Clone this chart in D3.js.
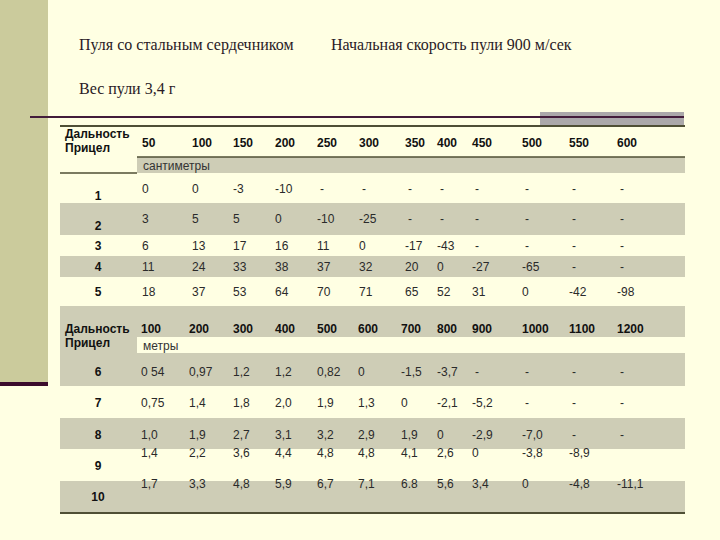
<!DOCTYPE html>
<html>
<head>
<meta charset="utf-8">
<script src="https://cdn.jsdelivr.net/npm/d3@7"></script>
<style>
  body { margin: 0; background: #ffffe3; }
  svg { display: block; }
</style>
</head>
<body>
<div id="chart"></div>
<script>
// data: sight tables for the steel-core bullet
const title1 = "Пуля со стальным сердечником";
const title2 = "Начальная скорость пули 900 м/сек";
const title3 = "Вес пули 3,4 г";
const headLabel = ["Дальность", "Прицел"];

const cmRanges = [50, 100, 150, 200, 250, 300, 350, 400, 450, 500, 550, 600];
const cmUnit = "сантиметры";
const cmSights = [1, 2, 3, 4, 5];
const cmValues = [
  ["0", "0", "-3", "-10", "-", "-", "-", "-", "-", "-", "-", "-"],
  ["3", "5", "5", "0", "-10", "-25", "-", "-", "-", "-", "-", "-"],
  ["6", "13", "17", "16", "11", "0", "-17", "-43", "-", "-", "-", "-"],
  ["11", "24", "33", "38", "37", "32", "20", "0", "-27", "-65", "-", "-"],
  ["18", "37", "53", "64", "70", "71", "65", "52", "31", "0", "-42", "-98"],
];

const mRanges = [100, 200, 300, 400, 500, 600, 700, 800, 900, 1000, 1100, 1200];
const mUnit = "метры";
const mSights = [6, 7, 8, 9, 10];
const mValues = [
  ["0 54", "0,97", "1,2", "1,2", "0,82", "0", "-1,5", "-3,7", "-", "-", "-", "-"],
  ["0,75", "1,4", "1,8", "2,0", "1,9", "1,3", "0", "-2,1", "-5,2", "-", "-", "-"],
  ["1,0", "1,9", "2,7", "3,1", "3,2", "2,9", "1,9", "0", "-2,9", "-7,0", "-", "-"],
  ["1,4", "2,2", "3,6", "4,4", "4,8", "4,8", "4,1", "2,6", "0", "-3,8", "-8,9", ""],
  ["1,7", "3,3", "4,8", "5,9", "6,7", "7,1", "6.8", "5,6", "3,4", "0", "-4,8", "-11,1"],
];

// layout
const width = 720, height = 540;
const left = 60, right = 685, labelRight = 137;
const gray = "#cecdb6", cream = "#ffffe3", lineCol = "#4f4f35";
const colX1 = [142, 192, 233, 275, 317, 359, 405, 437, 472, 522, 569, 617];
const colX2 = [141, 189, 233, 275, 317, 358, 401, 437, 472, 522, 569, 617];
// per row: top, bottom, fill, value baseline, label baseline
const rowsCm = [
  { y0: 173, y1: 203, fill: cream, vb: 193, lb: 200 },
  { y0: 203, y1: 235, fill: gray, vb: 223, lb: 230 },
  { y0: 235, y1: 256, fill: cream, vb: 250, lb: 250 },
  { y0: 256, y1: 277, fill: gray, vb: 271, lb: 271 },
  { y0: 277, y1: 306, fill: cream, vb: 296, lb: 296 },
];
const rowsM = [
  { y0: 353, y1: 386, fill: gray, vb: 376, lb: 376 },
  { y0: 386, y1: 418, fill: cream, vb: 407, lb: 407 },
  { y0: 418, y1: 449, fill: gray, vb: 439, lb: 439 },
  { y0: 449, y1: 481, fill: cream, vb: 457, lb: 470 },
  { y0: 481, y1: 512, fill: gray, vb: 488, lb: 501 },
];

const svg = d3
  .select("#chart")
  .append("svg")
  .attr("width", width)
  .attr("height", height)
  .style("font-family", "'Liberation Sans', Arial, sans-serif");

svg.append("rect").attr("width", width).attr("height", height).attr("fill", cream);

// left decorative band
svg.append("rect").attr("x", 0).attr("y", 0).attr("width", 48).attr("height", 382).attr("fill", "#cbcb9c");
svg.append("rect").attr("x", 0).attr("y", 382).attr("width", 48).attr("height", 4).attr("fill", "#3b0b2c");

// titles
const titles = svg.append("g").style("font-family", "'Liberation Serif', 'Times New Roman', serif")
  .style("font-size", "16px").attr("fill", "#2a1a26");
titles.append("text").attr("x", 79).attr("y", 50).text(title1);
titles.append("text").attr("x", 331).attr("y", 50).text(title2);
titles.append("text").attr("x", 79).attr("y", 94).text(title3);

// top rules
svg.append("rect").attr("x", 540).attr("y", 112).attr("width", 144).attr("height", 13).attr("fill", "#aba8aa");
svg.append("line").attr("x1", 30).attr("x2", 684).attr("y1", 117).attr("y2", 117)
  .attr("stroke", "#431c3a").attr("stroke-width", 2);
svg.append("line").attr("x1", left).attr("x2", right).attr("y1", 126).attr("y2", 126)
  .attr("stroke", lineCol).attr("stroke-width", 2);

function drawSection(opts) {
  const g = svg.append("g");
  const x = d3.scaleOrdinal().domain(opts.ranges).range(opts.colX);
  const idx = d3.scaleOrdinal().domain(opts.sights).range(opts.rows);

  // background fills
  if (opts.headFill !== cream) {
    g.append("rect").attr("x", left).attr("y", opts.headY0).attr("width", right - left)
      .attr("height", opts.headY1 - opts.headY0).attr("fill", opts.headFill);
    g.append("rect").attr("x", left).attr("y", opts.headY1).attr("width", labelRight - left)
      .attr("height", opts.unitY1 - opts.headY1).attr("fill", opts.headFill);
  }
  g.append("rect").attr("x", labelRight).attr("y", opts.headY1).attr("width", right - labelRight)
    .attr("height", opts.unitY1 - opts.headY1).attr("fill", opts.unitFill);

  g.selectAll("rect.row")
    .data(opts.sights)
    .join("rect")
    .attr("class", "row")
    .attr("x", left)
    .attr("y", (d) => idx(d).y0)
    .attr("width", right - left)
    .attr("height", (d) => idx(d).y1 - idx(d).y0)
    .attr("fill", (d) => idx(d).fill);

  if (opts.rules) {
    g.append("line").attr("x1", labelRight).attr("x2", right).attr("y1", opts.headY1).attr("y2", opts.headY1)
      .attr("stroke", lineCol).attr("stroke-width", 1.5);
    g.append("line").attr("x1", left).attr("x2", labelRight).attr("y1", opts.unitY1).attr("y2", opts.unitY1)
      .attr("stroke", lineCol).attr("stroke-width", 1.5);
  }

  // header texts
  g.append("text").attr("x", 65).attr("y", opts.lab1).attr("font-weight", "bold")
    .attr("font-size", 12).attr("fill", "#111").text(headLabel[0]);
  g.append("text").attr("x", 65).attr("y", opts.lab2).attr("font-weight", "bold")
    .attr("font-size", 12).attr("fill", "#111").text(headLabel[1]);

  g.selectAll("text.range")
    .data(opts.ranges)
    .join("text")
    .attr("class", "range")
    .attr("x", (d) => x(d))
    .attr("y", opts.rangeY)
    .attr("font-weight", "bold")
    .attr("font-size", 12)
    .attr("fill", "#111")
    .text((d) => d);

  g.append("text").attr("x", 143).attr("y", opts.unitY).attr("font-size", 12)
    .attr("fill", "#333").text(opts.unit);

  // sight numbers
  g.selectAll("text.sight")
    .data(opts.sights)
    .join("text")
    .attr("class", "sight")
    .attr("x", 98)
    .attr("y", (d) => idx(d).lb)
    .attr("text-anchor", "middle")
    .attr("font-weight", "bold")
    .attr("font-size", 12)
    .attr("fill", "#111")
    .text((d) => d);

  // cell values
  const cells = [];
  opts.values.forEach((row, i) => {
    row.forEach((v, j) => cells.push({ sight: opts.sights[i], range: opts.ranges[j], v: v }));
  });
  g.selectAll("text.cell")
    .data(cells)
    .join("text")
    .attr("class", "cell")
    .attr("x", (d) => x(d.range) + (d.v === "-" ? 3 : 0))
    .attr("y", (d) => idx(d.sight).vb)
    .attr("font-size", 12)
    .attr("fill", "#2a2a2a")
    .text((d) => d.v);
}

drawSection({
  ranges: cmRanges, sights: cmSights, values: cmValues, unit: cmUnit,
  colX: colX1, rows: rowsCm,
  headY0: 126, headY1: 157, unitY1: 173, headFill: cream, unitFill: gray, rules: true,
  lab1: 138, lab2: 152, rangeY: 147, unitY: 170,
});

drawSection({
  ranges: mRanges, sights: mSights, values: mValues, unit: mUnit,
  colX: colX2, rows: rowsM,
  headY0: 306, headY1: 337, unitY1: 353, headFill: gray, unitFill: cream, rules: false,
  lab1: 333, lab2: 347, rangeY: 333, unitY: 350,
});

// bottom rule
svg.append("line").attr("x1", left).attr("x2", right).attr("y1", 513).attr("y2", 513)
  .attr("stroke", lineCol).attr("stroke-width", 2);
</script>
</body>
</html>
